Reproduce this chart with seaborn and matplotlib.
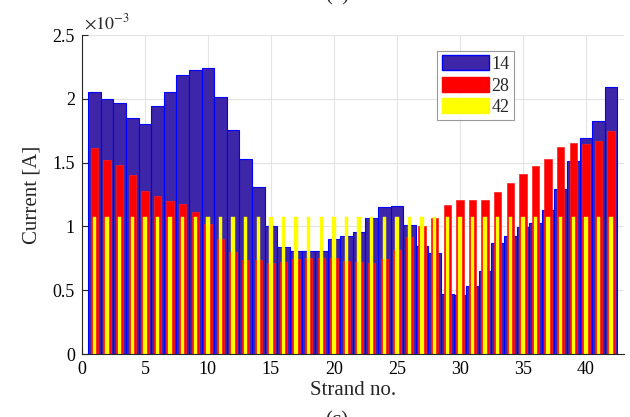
import numpy as np
import pandas as pd
import matplotlib
matplotlib.use("Agg")
import matplotlib.pyplot as plt
import seaborn as sns
from matplotlib.patches import Patch

# Strand numbers
strands = list(range(1, 43))

# Currents in units of 1e-3 A
current_14 = [2.056, 2.000, 1.965, 1.847, 1.800, 1.946, 2.053, 2.190, 2.228, 2.239,
              2.014, 1.753, 1.532, 1.312, 1.003, 0.836, 0.805, 0.805, 0.810, 0.901,
              0.922, 0.956, 1.066, 1.152, 1.160, 1.011, 0.846, 0.791, 0.470, 0.465,
              0.533, 0.653, 0.867, 0.927, 0.993, 1.024, 1.128, 1.293, 1.512, 1.690,
              1.829, 2.090]
current_28 = [1.617, 1.523, 1.479, 1.400, 1.275, 1.238, 1.196, 1.175, 1.115, 1.016,
              0.898, 0.802, 0.734, 0.739, 0.710, 0.721, 0.742, 0.750, 0.755, 0.752,
              0.729, 0.721, 0.716, 0.744, 0.816, 0.915, 1.003, 1.066, 1.165, 1.207,
              1.207, 1.207, 1.270, 1.343, 1.411, 1.473, 1.531, 1.622, 1.651, 1.648,
              1.667, 1.750]
current_42 = [1.071] * 42

series_labels = ["14", "28", "42"]
yticks = [0, 0.5, 1, 1.5, 2, 2.5]
ytick_labels = ["0", "0.5", "1", "1.5", "2", "2.5"]
xticks = [0, 5, 10, 15, 20, 25, 30, 35, 40]

sns.set_theme(style="white")
plt.rcParams["font.family"] = ["Liberation Serif", "DejaVu Serif"]
plt.rcParams["mathtext.fontset"] = "stix"

fig = plt.figure(figsize=(6.3, 4.17), dpi=100)
ax = fig.add_axes([0.130, 0.151, 0.860, 0.765])

df = pd.DataFrame({"strand": strands, "c14": current_14, "c28": current_28, "c42": current_42})

blue_face = (0.2422, 0.1504, 0.6603)
sns.barplot(data=df, x="strand", y="c14", native_scale=True, width=1.0,
            color=blue_face, saturation=1, edgecolor="#0000ff", linewidth=0.8, ax=ax)
sns.barplot(data=df, x="strand", y="c28", native_scale=True, width=0.58,
            color="#ff0000", saturation=1, edgecolor="#ff2020", linewidth=0.5, ax=ax)
sns.barplot(data=df, x="strand", y="c42", native_scale=True, width=0.28,
            color="#ffff00", saturation=1, edgecolor="#ffff00", linewidth=0.3, ax=ax)

ax.set_xlim(0, 43)
ax.set_ylim(0, 2.5)
ax.set_xticks(xticks)
ax.set_xticklabels([str(t) for t in xticks])
ax.set_yticks(yticks)
ax.set_yticklabels(ytick_labels)
ax.tick_params(direction="in", length=4, width=0.8, labelsize=13, colors="#262626",
               top=False, right=False, bottom=True, left=True, pad=5)
for lab in ax.get_xticklabels() + ax.get_yticklabels():
    lab.set_color("#000000")

ax.set_axisbelow(True)
ax.grid(True, color="#e3e3e3", linewidth=0.8)
for s in ["top", "right"]:
    ax.spines[s].set_visible(False)
for s in ["left", "bottom"]:
    ax.spines[s].set_color("#262626")
    ax.spines[s].set_linewidth(0.8)

ax.set_xlabel("Strand no.", fontsize=15, labelpad=2)
ax.set_ylabel("Current [A]", fontsize=15, labelpad=8)

ax.text(0.004, 1.005, r"$\times 10^{-3}$", transform=ax.transAxes, fontsize=13,
        ha="left", va="bottom")

handles = [Patch(facecolor=blue_face, edgecolor="#0000ff", label=series_labels[0]),
           Patch(facecolor="#ff0000", edgecolor="#ff0000", label=series_labels[1]),
           Patch(facecolor="#ffff00", edgecolor="#ffff00", label=series_labels[2])]
leg = ax.legend(handles=handles, loc="upper left", bbox_to_anchor=(0.656, 0.95),
                fontsize=13, frameon=True, fancybox=False, handlelength=2.6,
                handleheight=0.9, handletextpad=0.15, borderpad=0.25, labelspacing=0.2,
                borderaxespad=0)
leg.get_frame().set_edgecolor("#808080")
leg.get_frame().set_linewidth(0.8)

# partially visible subplot captions at the figure edges (cropped as in the source)
fig.text(0.535, 1.0 + 4 / 417, "(b)", fontsize=15, ha="center", va="center")
fig.text(0.535, 0.0 - 4 / 417, "(c)", fontsize=15, ha="center", va="center")

fig.savefig("out.png", dpi=100)
